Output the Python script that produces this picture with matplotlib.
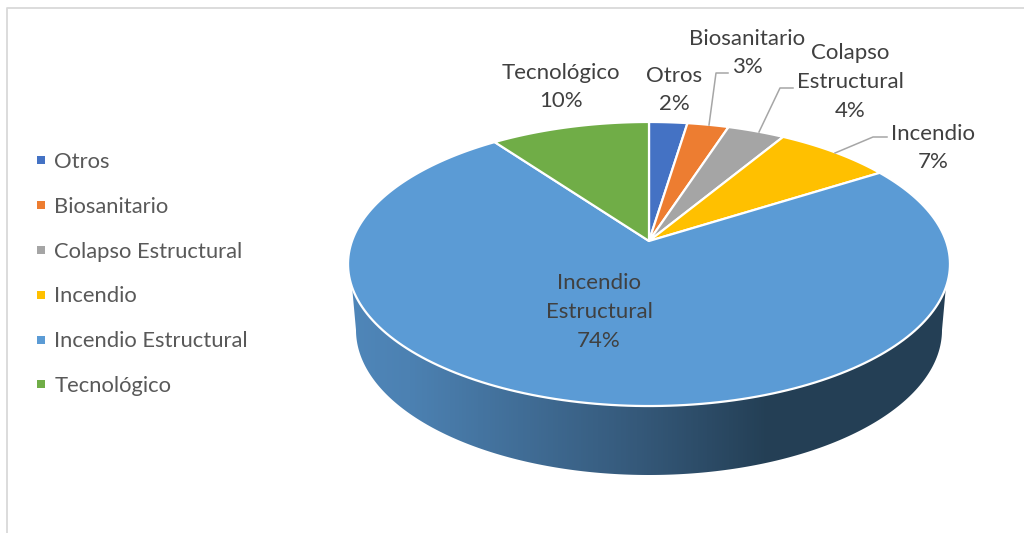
import matplotlib
matplotlib.use("Agg")
import matplotlib.pyplot as plt
from matplotlib.colors import LinearSegmentedColormap
from matplotlib.lines import Line2D
from matplotlib.patches import Polygon
import numpy as np

plt.rcParams["font.family"] = ["Lato", "DejaVu Sans"]

categories = ["Otros", "Biosanitario", "Colapso Estructural", "Incendio", "Incendio Estructural", "Tecnológico"]
shares = [2.4, 2.6, 3.6, 7.4, 74.0, 10.0]
colors = ["#4472c4", "#ed7d31", "#a5a5a5", "#ffc000", "#5b9bd5", "#70ad47"]

label_text = ["Otros", "Biosanitario", "Colapso\nEstructural", "Incendio", "Incendio\nEstructural", "Tecnológico"]
label_pos = [(674, 90), (747, 53), (850, 82), (933, 148), (599, 312), (561, 87)]

leaders = [
    [(709, 125), (716, 73), (728, 73)],
    [(759, 132), (780, 88), (793, 88)],
    [(835, 153), (873, 137), (887, 137)],
]


# pie top seen in perspective: centre sits above the middle of the ellipse
def project(theta):
    u = np.sin(theta)
    v = np.cos(theta)
    d = 1 + 0.162 * v
    return 649 + 297 * u / d, 241 - 138.3 * v / d


fig = plt.figure(figsize=(10.24, 5.33), dpi=100)
ax = fig.add_axes([0, 0, 1, 1])
ax.set_xlim(0, 1024)
ax.set_ylim(533, 0)
ax.axis("off")

# chart frame
ax.plot([7, 7, 1024], [533, 8, 8], color="#d9d9d9", lw=1.3)

# side wall with the gradient
t = np.linspace(np.pi, 2 * np.pi, 200)
wall_x = 649 + 293 * np.cos(t)
wall_y = 330 - 145 * np.sin(t)
outline = np.vstack([[[350, 264]], np.column_stack([wall_x, wall_y]), [[948, 264]]])
cmap = LinearSegmentedColormap.from_list(
    "wall",
    [(0, "#4f86b9"), (0.1, "#4c81b2"), (0.48, "#35597a"), (0.7, "#243f55"), (1, "#243f55")],
)
grad = ax.imshow(
    np.linspace(0, 1, 600)[None, :],
    cmap=cmap,
    extent=[349, 949, 480, 260],
    aspect="auto",
    zorder=1,
)
grad.set_clip_path(Polygon(outline, transform=ax.transData))
ax.set_xlim(0, 1024)
ax.set_ylim(533, 0)

# slices
edges = np.cumsum([0] + shares) / 100 * 2 * np.pi
for i in range(len(shares)):
    arc = np.linspace(edges[i], edges[i + 1], 200)
    x, y = project(arc)
    ax.fill(
        np.r_[649, x],
        np.r_[241, y],
        color=colors[i],
        ec="white",
        lw=1.6,
        joinstyle="round",
        zorder=2,
    )

for line in leaders:
    xs, ys = zip(*line)
    ax.plot(xs, ys, color="#a6a6a6", lw=1.1, zorder=3)

for i in range(len(shares)):
    txt = label_text[i] + "\n" + str(round(shares[i])) + "%"
    ax.text(
        label_pos[i][0],
        label_pos[i][1],
        txt,
        ha="center",
        va="center",
        fontsize=16,
        color="#404040",
        linespacing=1.55,
        zorder=4,
    )

handles = [
    Line2D([], [], ls="none", marker="s", ms=5.8, mew=0, color=c, label=n)
    for c, n in zip(colors, categories)
]
ax.legend(
    handles=handles,
    loc="upper left",
    bbox_to_anchor=(32.5, 152),
    bbox_transform=ax.transData,
    frameon=False,
    fontsize=15.8,
    labelcolor="#595959",
    labelspacing=1.13,
    handlelength=0.8,
    handletextpad=0.19,
    borderpad=0,
    borderaxespad=0,
)

fig.savefig("out.png", dpi=100)
